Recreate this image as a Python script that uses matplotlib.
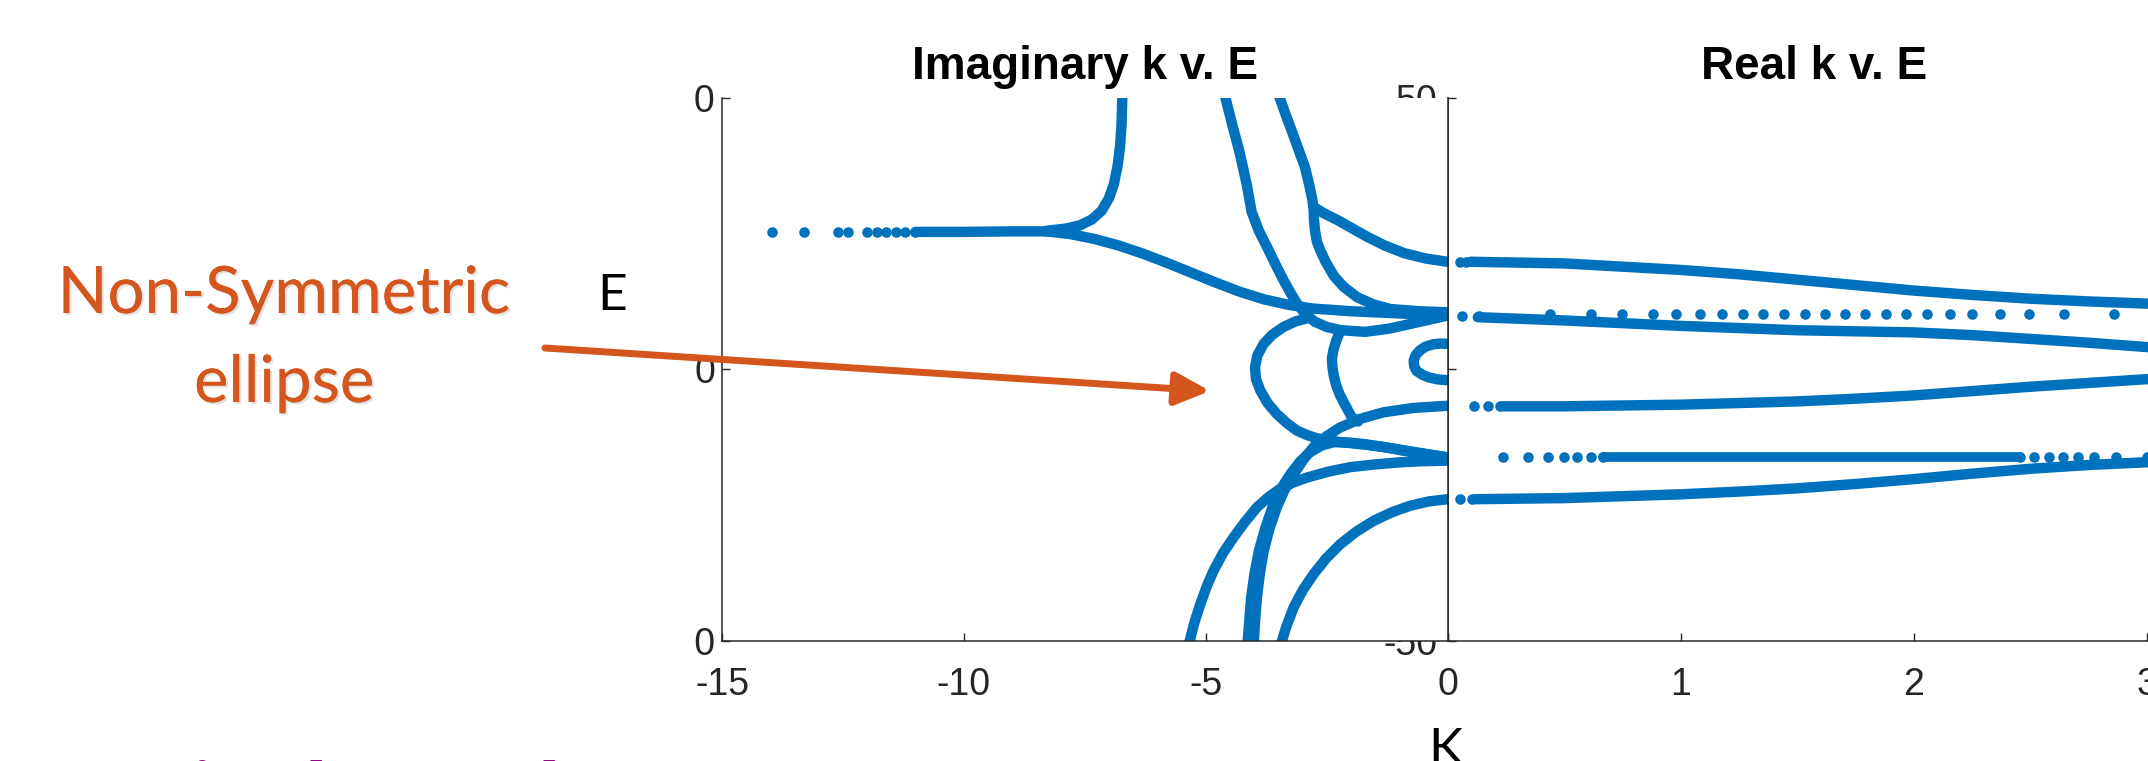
import matplotlib
matplotlib.use('Agg')
import matplotlib.pyplot as plt
import matplotlib.patheffects as pe
from matplotlib.patches import Rectangle, FancyArrowPatch

W, H = 2148, 761
BLUE = '#0072BD'
ORANGE = '#D4561C'
MAGENTA = '#91087F'
AXC = '#262626'

# ---------------- left panel: imaginary k v. E  (k, E)
y_dots_k = [-13.96, -13.31, -12.60, -12.40, -12.00, -11.80, -11.60, -11.40, -11.21, -11.01]
y_dots_e = 25.3
y_trunk_k = [-11.0, -10.0, -9.0, -8.3]
y_trunk_e = [25.3, 25.3, 25.4, 25.4]
up_branch_k = [-8.3, -7.9, -7.6, -7.35, -7.15, -7.0, -6.9, -6.82, -6.77, -6.74, -6.72]
up_branch_e = [25.5, 25.9, 26.5, 27.6, 29.2, 31.5, 34.0, 37.5, 41.0, 45.0, 51.0]
low_branch_k = [-8.3, -7.8, -7.3, -6.8, -6.3, -5.8, -5.3, -4.8, -4.3, -3.8, -3.3, -2.8, -2.0, -1.0, 0.0]
low_branch_e = [25.4, 24.9, 24.0, 22.8, 21.3, 19.6, 17.8, 16.0, 14.3, 12.9, 11.9, 11.2, 10.7, 10.3, 9.9]
steep1_k = [-4.62, -4.45, -4.30, -4.15, -4.05, -3.90, -3.73, -3.55, -3.39, -3.24, -3.11, -2.95,
            -2.75, -2.50, -2.20, -1.70, -1.20, -0.60, 0.0]
steep1_e = [51.0, 45.0, 40.0, 34.0, 29.0, 25.5, 22.5, 19.2, 16.4, 14.0, 12.1, 10.3,
            8.8, 7.8, 7.2, 6.9, 7.5, 8.7, 9.9]
steep2_k = [-3.51, -3.35, -3.20, -3.07, -2.95, -2.86, -2.80, -2.77, -2.76, -2.74, -2.70, -2.63,
            -2.52, -2.35, -2.15, -1.87, -1.55, -1.18, -0.60, 0.0]
steep2_e = [51.0, 47.0, 43.4, 40.2, 37.3, 34.0, 31.5, 29.9, 27.5, 25.6, 23.5, 21.9,
            19.8, 17.2, 15.2, 13.3, 12.0, 11.1, 10.7, 10.5]
side2_k = [-2.77, -2.55, -2.28, -1.98, -1.66, -1.30, -0.90, -0.45, 0.0]
side2_e = [29.9, 28.7, 27.5, 26.0, 24.4, 22.8, 21.4, 20.4, 19.8]
ell_outer_k = [-2.90, -3.15, -3.39, -3.62, -3.80, -3.93, -3.98, -3.96, -3.87, -3.72, -3.53, -3.32,
               -3.11, -2.90, -2.70, -2.45, -2.20, -1.66, -1.10, -0.63, 0.0]
ell_outer_e = [9.4, 8.8, 7.8, 6.4, 4.7, 2.6, 0.4, -1.8, -3.9, -6.2, -8.2, -9.9,
               -11.3, -12.1, -12.7, -13.1, -13.4, -13.9, -14.6, -15.3, -16.2]
ell_inner_k = [-2.22, -2.30, -2.36, -2.39, -2.38, -2.35, -2.30, -2.23, -2.15, -2.06, -1.98, -1.85]
ell_inner_e = [7.0, 5.3, 3.5, 2.0, 0.5, -1.2, -3.0, -4.6, -6.0, -7.5, -8.8, -9.6]
c_loop_k = [0.0, -0.15, -0.30, -0.45, -0.57, -0.66, -0.70, -0.69, -0.64, -0.52, -0.38, -0.20, 0.0]
c_loop_e = [4.7, 4.75, 4.6, 4.2, 3.5, 2.6, 1.6, 0.6, -0.3, -1.0, -1.5, -1.85, -2.0]
arc1_k = [-5.36, -5.23, -5.11, -4.98, -4.84, -4.64, -4.42, -4.18, -3.94, -3.70, -3.46, -3.18,
          -2.90, -2.45, -2.01, -1.50, -0.97, -0.50, 0.0]
arc1_e = [-51.0, -46.5, -43.2, -40.0, -37.1, -33.8, -30.9, -28.0, -25.4, -23.5, -22.0, -20.8,
          -19.9, -18.8, -18.0, -17.5, -17.1, -16.9, -16.8]
arc2_k = [-4.01, -3.98, -3.94, -3.88, -3.80, -3.68, -3.53, -3.37, -3.18, -2.98, -2.77, -2.50,
          -2.22, -1.80, -1.32, -0.70, 0.0]
arc2_e = [-51.0, -46.5, -42.0, -37.6, -33.4, -29.3, -25.4, -22.2, -19.3, -16.6, -14.3, -12.3,
          -10.7, -9.1, -7.9, -7.1, -6.7]
arc2b_k = [-4.14, -4.10, -4.06, -3.99, -3.90, -3.77, -3.62, -3.45, -3.25, -3.05, -2.85, -2.60,
           -2.35, -2.00, -1.70, -1.30, -0.90, -0.45, 0.0]
arc2b_e = [-51.0, -46.5, -42.0, -37.6, -33.4, -29.3, -25.4, -22.1, -19.3, -17.0, -15.3, -14.0,
           -13.4, -13.5, -13.8, -14.3, -15.0, -15.6, -16.2]
arc3_k = [-3.46, -3.33, -3.18, -2.99, -2.77, -2.51, -2.22, -1.89, -1.53, -1.15, -0.77, -0.38, 0.0]
arc3_e = [-51.0, -47.3, -43.8, -40.6, -37.7, -34.8, -32.2, -29.9, -27.9, -26.3, -25.1, -24.3, -23.9]

# ---------------- right panel: real k v. E
r1_k = [0.10, 0.5, 1.0, 1.25, 1.5, 1.75, 2.0, 2.25, 2.5, 2.75, 3.0, 3.14]
r1_e = [19.8, 19.5, 18.3, 17.5, 16.5, 15.5, 14.5, 13.7, 13.0, 12.5, 12.1, 11.9]
r1_dots_k = [0.055, 0.08]
r1_dots_e = 19.8
r2_dots_k = [0.062, 0.134]
r2_dots_e = 9.8
r2_row_k = [0.441, 0.614, 0.747, 0.881, 0.979, 1.081, 1.177, 1.269, 1.355, 1.443, 1.531,
            1.617, 1.703, 1.791, 1.879, 1.965, 2.057, 2.153, 2.251, 2.370, 2.493, 2.644, 2.859]
r2_row_e = 10.25
r3_k = [0.13, 0.5, 1.0, 1.25, 1.5, 1.75, 2.0, 2.25, 2.5, 2.75, 3.0, 3.14]
r3_e = [9.6, 9.0, 8.0, 7.6, 7.2, 7.0, 6.8, 6.3, 5.6, 4.9, 4.1, 3.7]
r4_k = [0.24, 0.5, 1.0, 1.25, 1.5, 1.75, 2.0, 2.25, 2.5, 2.75, 3.0, 3.14]
r4_e = [-6.8, -6.8, -6.5, -6.2, -5.9, -5.4, -4.8, -4.0, -3.2, -2.5, -1.8, -1.5]
r4_dots_k = [0.113, 0.175, 0.226]
r4_dots_e = -6.8
r5_dense_k = [0.666, 2.456]
r5_e = -16.2
r5_dots_k = [0.236, 0.345, 0.431, 0.498, 0.557, 0.614, 0.666,
             2.456, 2.517, 2.579, 2.640, 2.702, 2.773, 2.865, 2.998]
r6_k = [0.12, 0.5, 1.0, 1.25, 1.5, 1.75, 2.0, 2.25, 2.5, 2.75, 3.0, 3.14]
r6_e = [-23.9, -23.7, -23.0, -22.5, -21.9, -21.1, -20.2, -19.2, -18.3, -17.6, -17.1, -16.9]
r6_dots_k = [0.052, 0.103]
r6_dots_e = -23.9

left_xticks = [-15, -10, -5, 0]
left_xlabels = ['-15', '-10', '-5', '']
right_xticks = [0, 1, 2, 3]
yticks = [-50, 0, 50]

plt.rcParams['font.family'] = 'Liberation Sans'
plt.rcParams['axes.unicode_minus'] = False

fig = plt.figure(figsize=(W / 100, H / 100), dpi=100)

ax_top = 1 - 97.7 / H
ax_bot = 1 - 641 / H
axL = fig.add_axes([722 / W, ax_bot, (1447.5 - 722) / W, ax_top - ax_bot], zorder=0.5)
axR = fig.add_axes([1447.5 / W, ax_bot, 3.14159 * 233.2 / W, ax_top - ax_bot], zorder=0)

LW = 7.5
MS = 7.6

# left panel curves
curves = [(y_trunk_k, y_trunk_e), (up_branch_k, up_branch_e), (low_branch_k, low_branch_e),
          (steep1_k, steep1_e), (steep2_k, steep2_e), (side2_k, side2_e),
          (ell_outer_k, ell_outer_e), (ell_inner_k, ell_inner_e), (c_loop_k, c_loop_e),
          (arc1_k, arc1_e), (arc2_k, arc2_e), (arc2b_k, arc2b_e), (arc3_k, arc3_e)]
for k, e in curves:
    axL.plot(k, e, color=BLUE, lw=LW, solid_capstyle='round', solid_joinstyle='round')
axL.plot(y_dots_k, [y_dots_e] * len(y_dots_k), 'o', ms=MS, color=BLUE, mec='none')

# right panel curves
for k, e in [(r1_k, r1_e), (r3_k, r3_e), (r4_k, r4_e), (r6_k, r6_e)]:
    axR.plot(k, e, color=BLUE, lw=LW, solid_capstyle='round', solid_joinstyle='round')
axR.plot(r5_dense_k, [r5_e] * 2, color=BLUE, lw=LW - 0.5, solid_capstyle='round')
for k, e in [(r1_dots_k, r1_dots_e), (r2_dots_k, r2_dots_e), (r2_row_k, r2_row_e),
             (r4_dots_k, r4_dots_e), (r5_dots_k, r5_e), (r6_dots_k, r6_dots_e)]:
    axR.plot(k, [e] * len(k), 'o', ms=MS, color=BLUE, mec='none')

for ax in (axL, axR):
    ax.set_ylim(-50, 50)
    ax.set_yticks(yticks)
    ax.spines['top'].set_visible(False)
    for s in ax.spines.values():
        s.set_color(AXC)
        s.set_linewidth(1.1)
    ax.tick_params(direction='in', length=5.8, width=1, colors=AXC, labelsize=27)
    ax.tick_params(axis='x', pad=19)

axL.set_xlim(-15, 0)
axL.set_xticks(left_xticks)
axL.set_xticklabels(left_xlabels)
axL.tick_params(axis='y', pad=5)
axL.tick_params(right=False)
axL.set_title('Imaginary k v. E', fontsize=33, fontweight='bold', pad=13.5)

axR.set_xlim(0, 3.14159)
axR.set_xticks(right_xticks)
axR.spines['right'].set_visible(False)
axR.tick_params(axis='y', pad=7)
axR.set_title('Real k v. E', fontsize=33, fontweight='bold', pad=13.5)

# the slide crops the left plot's tick labels
fig.add_artist(Rectangle((0, 1 - 665 / H), 694 / W, (665 - 70) / H,
                         transform=fig.transFigure, facecolor='white', edgecolor='none', zorder=1))

shadow = [pe.withSimplePatchShadow(offset=(1.5, -1.5), shadow_rgbFace='black', alpha=0.12), pe.Normal()]
fig.text(284 / W, 1 - 313 / H, 'Non-Symmetric', fontsize=47, family='Lato',
         color=ORANGE, ha='center', va='baseline', zorder=2, path_effects=shadow)
fig.text(284 / W, 1 - 402 / H, 'ellipse', fontsize=47, family='Lato',
         color=ORANGE, ha='center', va='baseline', zorder=2, path_effects=shadow)
fig.text(612 / W, 1 - 310 / H, 'E', fontsize=37, family='Lato',
         ha='center', va='baseline', zorder=2)
fig.text(1445 / W, 1 - 764 / H, 'K', fontsize=37, family='Lato',
         ha='center', va='baseline', zorder=2)
fig.text(10 / W, 1 - 828 / H, 'Vertical Band', fontsize=66, family='Lato', fontweight='bold',
         color=MAGENTA, ha='left', va='baseline', zorder=2)

arrow = FancyArrowPatch((545 / W, 1 - 348 / H), (1210 / W, 1 - 391 / H), transform=fig.transFigure,
                        arrowstyle='-|>,head_length=21,head_width=10', mutation_scale=1,
                        lw=5, color=ORANGE, shrinkA=0, shrinkB=0, zorder=3)
fig.add_artist(arrow)

fig.savefig('out.png', dpi=100)
